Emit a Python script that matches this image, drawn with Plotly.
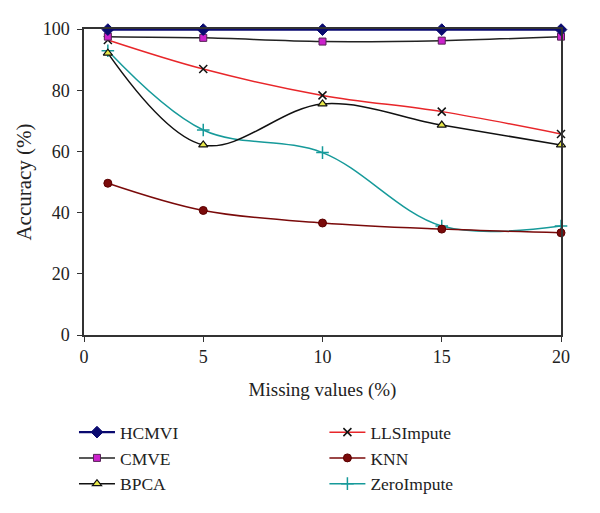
import plotly.graph_objects as go

missing = [1, 5, 10, 15, 20]
hcmvi = [99.8, 99.8, 99.8, 99.8, 99.8]
cmve = [97.5, 97.1, 95.9, 96.2, 97.5]
bpca = [92.1, 62.1, 75.5, 68.6, 62.1]
llsimpute = [96.4, 86.9, 78.3, 73.0, 65.7]
knn = [49.6, 40.7, 36.6, 34.6, 33.4]
zeroimpute = [92.9, 67.0, 59.6, 35.6, 35.6]

x_ticks = [0, 5, 10, 15, 20]
y_ticks = [0, 20, 40, 60, 80, 100]

FONT = "Liberation Serif"

fig = go.Figure()

def add(name, y, line_color, marker, legend, width=1.5):
    fig.add_trace(go.Scatter(
        x=missing, y=y, name=name, mode="lines+markers",
        line=dict(color=line_color, width=width, shape="spline", smoothing=1.0),
        marker=marker, legend=legend, cliponaxis=False,
    ))

add("ZeroImpute", zeroimpute, "#169a9a",
    dict(symbol="cross-thin", size=9, line=dict(color="#169a9a", width=1.5)), "legend2")
add("KNN", knn, "#7a0a0a",
    dict(symbol="circle", size=8, color="#7a0a0a", line=dict(color="#5a0000", width=1)), "legend2")
add("LLSImpute", llsimpute, "#e8262a",
    dict(symbol="x-thin", size=8, line=dict(color="#111111", width=1.5)), "legend2")
add("BPCA", bpca, "#111111",
    dict(symbol="triangle-up", size=8, color="#e8e84a", line=dict(color="#111111", width=1.2)), "legend")
add("CMVE", cmve, "#222222",
    dict(symbol="square", size=7, color="#cc22cc", line=dict(color="#552255", width=1)), "legend")
add("HCMVI", hcmvi, "#0a0a70",
    dict(symbol="diamond", size=9, color="#0a0a70", line=dict(color="#0a0a70", width=1)), "legend", width=2.2)

legend_common = dict(
    orientation="v", xanchor="left", yanchor="top",
    font=dict(family=FONT, size=17.5, color="#222222"),
    bgcolor="rgba(0,0,0,0)", traceorder="reversed", itemwidth=36,
)

# the page has an 8px body margin, so shift margins to compensate
fig.update_layout(
    width=600, height=513,
    margin=dict(l=76, r=47, t=21, b=186, autoexpand=False),
    plot_bgcolor="white", paper_bgcolor="white",
    font=dict(family=FONT, size=16, color="#222222"),
    showlegend=True,
    legend=dict(x=-0.021, y=-0.259, **legend_common),
    legend2=dict(x=0.504, y=-0.259, **legend_common),
    xaxis=dict(
        range=[0, 20], tickvals=x_ticks, ticktext=[str(v) for v in x_ticks],
        showgrid=False, zeroline=False, showline=True, linecolor="#333333", linewidth=1.5,
        mirror=True, ticks="outside", ticklen=5, tickcolor="#333333", automargin=False,
        title=dict(text="Missing values (%)", standoff=16, font=dict(size=19)),
        tickfont=dict(size=18),
    ),
    yaxis=dict(
        range=[0, 100], tickvals=y_ticks, ticktext=[str(v) for v in y_ticks],
        showgrid=False, zeroline=False, showline=True, linecolor="#333333", linewidth=1.5,
        mirror=True, ticks="outside", ticklen=5, tickcolor="#333333", automargin=False,
        ticklabelstandoff=4,
        title=dict(text="Accuracy (%)", standoff=5, font=dict(size=21)),
        tickfont=dict(size=18),
    ),
)

fig.write_html("out.html")
